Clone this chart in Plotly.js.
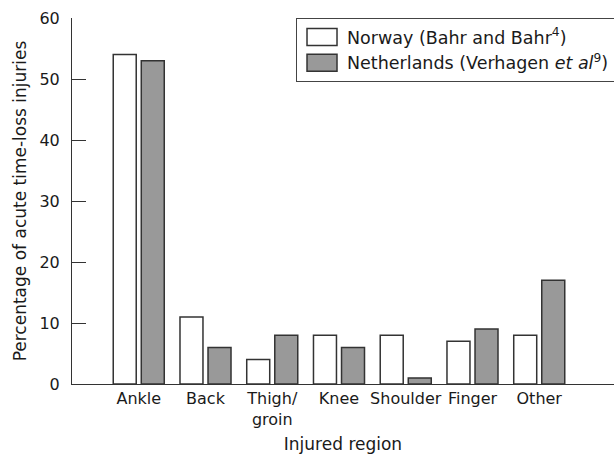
<!DOCTYPE html>
<html>
<head>
<meta charset="utf-8">
<script src="https://cdn.plot.ly/plotly-3.0.1.min.js"></script>
<style>html,body{margin:0;padding:0;background:#fff;}#chart{width:614px;height:454px;}</style>
</head>
<body>
<div id="chart"></div>
<script>
const categories = ['Ankle', 'Back', 'Thigh/<br>groin', 'Knee', 'Shoulder', 'Finger', 'Other'];
const norway = [54, 11, 4, 8, 8, 7, 8];
const netherlands = [53, 6, 8, 6, 1, 9, 17];
const seriesNames = ['Norway (Bahr and Bahr<sup>4</sup>)', 'Netherlands (Verhagen <i>et al</i><sup>9</sup>)'];
const yTicks = [0, 10, 20, 30, 40, 50, 60];

const FONT = 'DejaVu Sans, sans-serif';
const INK = '#1a1a1a';
const traces = [
  {type: 'bar', x: categories, y: norway, name: seriesNames[0],
   marker: {color: '#ffffff', line: {color: '#333333', width: 1.5}}},
  {type: 'bar', x: categories, y: netherlands, name: seriesNames[1],
   marker: {color: '#999999', line: {color: '#333333', width: 1.5}}}
];
const layout = {
  width: 614, height: 454,
  margin: {l: 72, r: 0, t: 18, b: 70, autoexpand: false},
  paper_bgcolor: '#ffffff', plot_bgcolor: '#ffffff',
  font: {family: FONT, size: 16, color: INK},
  barmode: 'group', bargap: 0.16, bargroupgap: 0.18,
  showlegend: true,
  legend: {x: 0.4133, xanchor: 'left', y: 1, yanchor: 'top', bordercolor: '#444444', borderwidth: 1,
           bgcolor: '#ffffff', font: {family: FONT, size: 17.5, color: INK}, itemwidth: 40, tracegroupgap: 0},
  xaxis: {type: 'category', range: [-1.0, 7.12], showline: true, linecolor: '#333333', linewidth: 1,
          ticks: '', showgrid: false, zeroline: false, automargin: true,
          tickfont: {family: FONT, size: 16, color: INK},
          title: {text: 'Injured region', font: {family: FONT, size: 17, color: INK}, standoff: 14}},
  yaxis: {range: [0, 60], tickvals: yTicks, ticktext: yTicks.map(String), showline: true, linecolor: '#333333', linewidth: 1,
          ticks: 'inside', ticklen: 14, tickcolor: '#333333', tickwidth: 1, showgrid: false, zeroline: false,
          automargin: false, ticklabelstandoff: 8,
          tickfont: {family: FONT, size: 16, color: INK},
          title: {text: 'Percentage of acute time-loss injuries', font: {family: FONT, size: 17, color: INK}, standoff: 8}}
};
Plotly.newPlot('chart', traces, layout, {displayModeBar: false, staticPlot: true}).then(function () {
  document.querySelectorAll('.legendpoints path').forEach(function (p) {
    p.setAttribute('d', 'M15,8.5H-15V-8.5H15Z');
  });
});
</script>
</body>
</html>
